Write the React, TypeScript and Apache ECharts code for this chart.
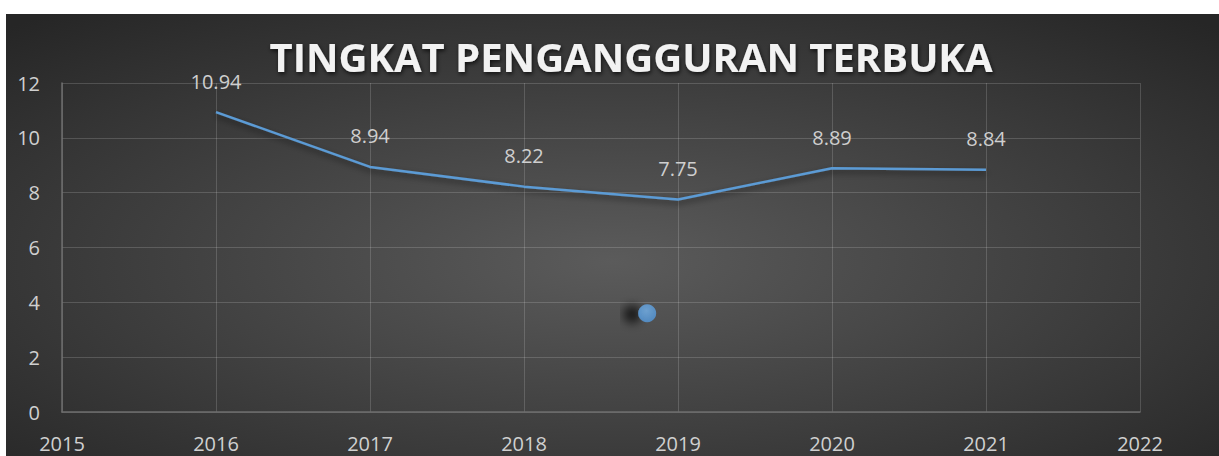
import React, { useEffect, useRef } from "react";
import * as echarts from "echarts";

const years = [2016, 2017, 2018, 2019, 2020, 2021];
const rates = [10.94, 8.94, 8.22, 7.75, 8.89, 8.84];
const strayPoint = [[2018.8, 3.6]];
const titleText = "TINGKAT PENGANGGURAN TERBUKA";

export default function App() {
  const ref = useRef<HTMLDivElement>(null);
  useEffect(() => {
    if (!ref.current) return;
    const chart = echarts.init(ref.current, undefined, { renderer: "svg" });
    const font = "'Open Sans', 'Noto Sans', sans-serif";
    chart.setOption({
      animation: false,
      backgroundColor: "#ffffff",
      graphic: [
        {
          type: "rect",
          x: 6,
          y: 14,
          scaleX: 1.213,
          scaleY: 0.45,
          z: -10,
          silent: true,
          shape: { x: 0, y: 0, width: 1000, height: 1000 },
          style: {
            fill: {
              type: "radial",
              x: 0.5,
              y: 0.55,
              r: 0.72,
              colorStops: [
                { offset: 0, color: "#5b5b5b" },
                { offset: 1, color: "#262626" },
              ],
            },
          },
        },
      ],
      title: {
        text: titleText,
        left: 626,
        top: 31,
        textAlign: "center",
        textStyle: {
          color: "#f2f2f2",
          fontFamily: font,
          fontWeight: "bold",
          fontSize: 40,
          textShadowColor: "rgba(0,0,0,0.7)",
          textShadowBlur: 4,
          textShadowOffsetX: 1,
          textShadowOffsetY: 2,
        },
      },
      grid: { left: 62, top: 83, right: 79, bottom: 44, containLabel: false },
      xAxis: {
        type: "value",
        min: 2015,
        max: 2022,
        interval: 1,
        axisLine: { show: true, lineStyle: { color: "#6e6e6e", width: 1.5 } },
        axisTick: { show: false },
        splitLine: { show: true, lineStyle: { color: "rgba(255,255,255,0.16)", width: 1 } },
        axisLabel: {
          color: "#d0d0d0",
          fontFamily: font,
          fontSize: 20,
          margin: 21,
          formatter: (v: number) => String(v),
        },
      },
      yAxis: {
        type: "value",
        min: 0,
        max: 12,
        interval: 2,
        axisLine: { show: true, lineStyle: { color: "#6e6e6e", width: 1.5 } },
        axisTick: { show: false },
        splitLine: { show: true, lineStyle: { color: "rgba(255,255,255,0.16)", width: 1 } },
        axisLabel: {
          color: "#d0d0d0",
          fontFamily: font,
          fontSize: 20,
          margin: 22,
        },
      },
      series: [
        {
          type: "line",
          data: years.map((y, i) => [y, rates[i]]),
          showSymbol: true,
          symbol: "circle",
          symbolSize: 0.1,
          itemStyle: { color: "#5b9bd5", opacity: 0 },
          lineStyle: {
            color: "#5b9bd5",
            width: 2.5,
            shadowColor: "rgba(0,0,0,0.55)",
            shadowBlur: 6,
            shadowOffsetY: 3,
          },
          label: {
            show: true,
            position: "top",
            distance: 21,
            color: "#cfcfcf",
            opacity: 1,
            fontFamily: font,
            fontSize: 20,
            formatter: (p: any) => p.value[1].toFixed(2),
          },
          z: 3,
        },
        {
          type: "scatter",
          data: strayPoint,
          symbol: "circle",
          symbolSize: 18,
          itemStyle: {
            color: {
              type: "radial",
              x: 0.45,
              y: 0.35,
              r: 0.7,
              colorStops: [
                { offset: 0, color: "#74b3ee" },
                { offset: 1, color: "#5096da" },
              ],
            },
            shadowColor: "rgba(0,0,0,0.85)",
            shadowBlur: 10,
            shadowOffsetX: -15,
            shadowOffsetY: 1,
          },
          z: 4,
        },
      ],
    });
    return () => chart.dispose();
  }, []);
  return (
    <div
      ref={ref}
      style={{ position: "absolute", left: 0, top: 0, width: 1219, height: 456 }}
    />
  );
}
